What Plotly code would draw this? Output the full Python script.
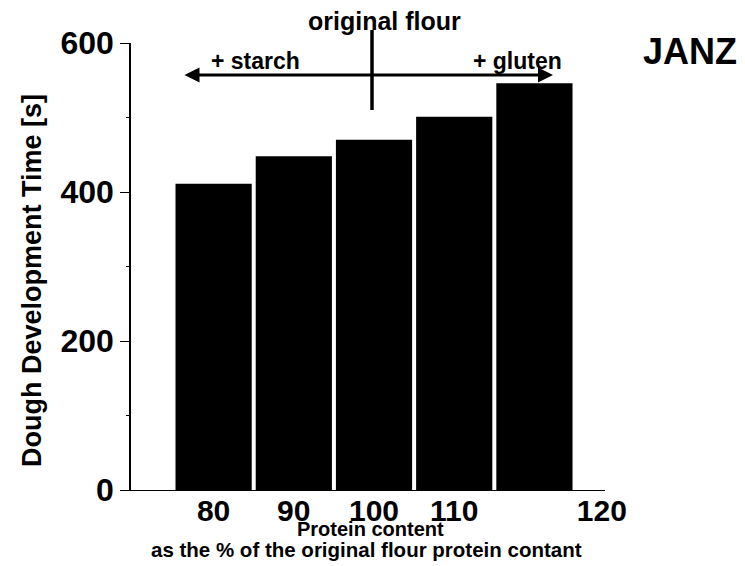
import plotly.graph_objects as go

# Data
protein_pct = [80, 90, 100, 110, 120]
ddt_seconds = [411, 448, 470, 501, 546]
y_ticks = [0, 200, 400, 600]
x_tick_labels = ["80", "90", "100", "110", "120"]
x_tick_pos = [80, 90, 100, 110, 128.4]

# page body has an 8px margin, so the figure is sized to fit the 745x566 window
W, H = 737, 558
ml, mt = 123, 35
pw, ph = 474, 447
mr = W - ml - pw
mb = H - mt - ph

fig = go.Figure()
fig.add_trace(go.Bar(
    x=protein_pct, y=ddt_seconds, width=9.5,
    marker=dict(color="black", line=dict(width=0)),
    showlegend=False, hoverinfo="x+y",
))

bold = dict(family="Liberation Sans, Arial, sans-serif", color="black", weight="bold")

fig.update_layout(
    width=W, height=H,
    margin=dict(l=ml, r=mr, t=mt, b=mb, pad=0),
    paper_bgcolor="white", plot_bgcolor="white",
    xaxis=dict(
        range=[69.7, 128.8],
        tickvals=x_tick_pos, ticktext=x_tick_labels,
        tickfont=dict(size=30, **bold),
        showline=True, linecolor="black", linewidth=1.2,
        ticks="", showgrid=False, zeroline=False,
        ticklabelstandoff=-6,
    ),
    yaxis=dict(
        range=[0, 600],
        tickvals=y_ticks,
        tickfont=dict(size=32, **bold),
        showline=True, linecolor="black", linewidth=1.5,
        ticks="outside", ticklen=9, tickwidth=1.2, tickcolor="black",
        showgrid=False, zeroline=False,
        minor=dict(dtick=100, ticks="outside", ticklen=3, tickcolor="black"),
    ),
)

ann = []
# y-axis title
ann.append(dict(text="Dough Development Time [s]", x=(32 - 131) / pw, y=(490 - 281) / ph,
                xref="paper", yref="paper", textangle=-90, showarrow=False,
                font=dict(size=27, **bold), xanchor="center", yanchor="middle"))
# x-axis title lines
ann.append(dict(text="Protein content", x=(370 - 131) / pw, y=(490 - 529) / ph,
                xref="paper", yref="paper", showarrow=False,
                font=dict(size=20, **bold), xanchor="center", yanchor="middle"))
ann.append(dict(text="as the % of the original flour protein contant", x=(366 - 131) / pw,
                y=(490 - 549) / ph, xref="paper", yref="paper", showarrow=False,
                font=dict(size=20.5, **bold), xanchor="center", yanchor="middle"))
# top labels
ann.append(dict(text="original flour", x=(384 - 131) / pw, y=(490 - 21) / ph,
                xref="paper", yref="paper", showarrow=False,
                font=dict(size=25, **bold), xanchor="center", yanchor="middle"))
ann.append(dict(text="+ starch", x=(255 - 131) / pw, y=(490 - 61) / ph,
                xref="paper", yref="paper", showarrow=False,
                font=dict(size=23, **bold), xanchor="center", yanchor="middle"))
ann.append(dict(text="+ gluten", x=(517 - 131) / pw, y=(490 - 61) / ph,
                xref="paper", yref="paper", showarrow=False,
                font=dict(size=23, **bold), xanchor="center", yanchor="middle"))
ann.append(dict(text="JANZ", x=(690 - 131) / pw, y=(490 - 52) / ph,
                xref="paper", yref="paper", showarrow=False,
                font=dict(size=36, **bold), xanchor="center", yanchor="middle"))
# double-headed arrow
ann.append(dict(text="", x=(553 - 131) / pw, y=(490 - 75) / ph, xref="paper", yref="paper",
                ax=-370, ay=0, axref="pixel", ayref="pixel",
                showarrow=True, arrowhead=2, arrowside="end+start",
                arrowsize=1, arrowwidth=3, arrowcolor="black"))
fig.update_layout(annotations=ann)

# vertical "original flour" marker line
fig.add_shape(type="line", xref="paper", yref="paper",
              x0=(372 - 131) / pw, x1=(372 - 131) / pw,
              y0=(490 - 110) / ph, y1=(490 - 30) / ph,
              line=dict(color="black", width=3.5))

fig.write_html("out.html")
